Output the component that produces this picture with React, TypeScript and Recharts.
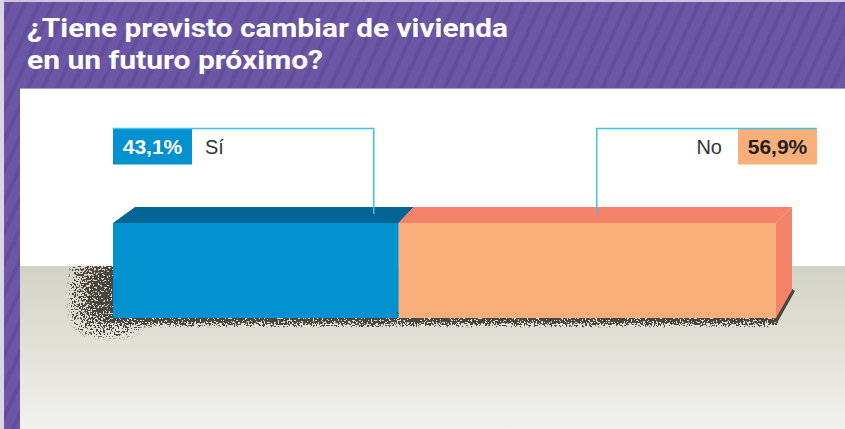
import React from "react";
import { BarChart, Bar, XAxis, YAxis } from "recharts";

const TITLE_LINES = ["¿Tiene previsto cambiar de vivienda", "en un futuro próximo?"];
const ANSWERS = ["Sí", "No"];
const KEYS = ["si", "no"];
const SHARES = [43.1, 56.9];

const W = 845;
const H = 429;
const FONT = '"Liberation Sans", Arial, Helvetica, sans-serif';
const SHADOW = "#4a463f";
const CALLOUT = "#3fc2ee";

const PALETTE = [
  { front: "#0491cf", top: "#046594", side: "#046594", box: "#0491cf", boxText: "#ffffff" },
  { front: "#f9af79", top: "#f4836a", side: "#f4836a", box: "#f9af79", boxText: "#231f20" },
];

const rows = [
  Object.fromEntries([["q", TITLE_LINES.join(" ")], ...KEYS.map((k, i) => [k, SHARES[i]])]),
];

const fmt = (v: number) => `${v.toFixed(1).replace(".", ",")}%`;

/* ─── 3D segment with its callout ─────────────────── */
function makeShape(i: number) {
  return function Segment(props: any) {
    const { x, y, width: w, height: h } = props;
    const p = PALETTE[i];
    const first = i === 0;
    const last = i === SHARES.length - 1;
    const dy = 16;
    const dl = first ? 22 : 15;
    const dr = last ? 16 : 15;
    const boxY = y - 94.5;
    const boxH = 36;
    const textY = y - 69;

    return (
      <g>
        {/* shadow on the floor */}
        <g clipPath="url(#floorClip)">
          {first && (
            <rect x={x - 30} y={y + 36} width={50} height={h - 30} fill="#000" filter="url(#speckleWide)" />
          )}
          <rect x={x - (first ? 12 : 0)} y={y + h - 6} width={w + (first ? 12 : 0)} height={12}
                fill="#000" filter="url(#speckleThin)" />
          {last && (
            <polygon
              points={`${x + w - 3},${y + h + 3} ${x + w + 15},${y + h - 30} ${x + w + 19},${y + h - 27} ${x + w + 1},${y + h + 5}`}
              fill={SHADOW}
            />
          )}
        </g>

        {/* top face */}
        <polygon
          points={`${x},${y} ${x + dl},${y - dy} ${x + w + dr},${y - dy} ${x + w},${y}`}
          fill={p.top}
        />
        {/* right face */}
        {last && (
          <polygon
            points={`${x + w},${y} ${x + w + dr},${y - dy} ${x + w + dr},${y + h - 28} ${x + w},${y + h}`}
            fill={p.side}
          />
        )}
        {/* front face */}
        <rect x={x} y={y} width={w} height={h} fill={p.front} />

        {/* callout */}
        {first ? (
          <g fontFamily={FONT}>
            <rect x={x} y={boxY} width={79} height={boxH} fill={p.box} />
            <path d={`M${x},${boxY} H${x + w - 25} V${y - 9}`} fill="none" stroke={CALLOUT} strokeWidth={1.5} />
            <text x={x + 39.5} y={textY} textAnchor="middle" fontSize={21} fontWeight="bold" fill={p.boxText}>
              {fmt(SHARES[i])}
            </text>
            <text x={x + 92} y={textY} fontSize={20} fill="#333">{ANSWERS[i]}</text>
          </g>
        ) : (
          <g fontFamily={FONT}>
            <rect x={x + w - 38} y={boxY} width={79} height={boxH} fill={p.box} />
            <path d={`M${x + w + 41},${boxY} H${x + 198} V${y - 9}`} fill="none" stroke={CALLOUT} strokeWidth={1.5} />
            <text x={x + w + 1.5} y={textY} textAnchor="middle" fontSize={21} fontWeight="bold" fill={p.boxText}>
              {fmt(SHARES[i])}
            </text>
            <text x={x + w - 54} y={textY} textAnchor="end" fontSize={20} fill="#333">{ANSWERS[i]}</text>
          </g>
        )}
      </g>
    );
  };
}

function Defs() {
  return (
    <svg width={0} height={0} style={{ position: "absolute" }}>
      <defs>
        <clipPath id="floorClip">
          <rect x={0} y={266} width={W} height={H - 266} />
        </clipPath>
        {[
          { id: "speckleWide", sd: 10 },
          { id: "speckleThin", sd: 2 },
        ].map((f) => (
          <filter key={f.id} id={f.id} x="-100%" y="-100%" width="300%" height="300%"
                  colorInterpolationFilters="sRGB">
            <feGaussianBlur in="SourceAlpha" stdDeviation={f.sd} result="b" />
            <feComponentTransfer in="b" result="reach">
              <feFuncA type="linear" slope={12} intercept={-0.4} />
            </feComponentTransfer>
            <feTurbulence type="fractalNoise" baseFrequency="0.55" numOctaves={2} seed={7} result="n" />
            <feColorMatrix in="n" type="matrix"
                           values="0 0 0 0 0  0 0 0 0 0  0 0 0 0 0  1 0 0 0 0" result="na" />
            <feComposite in="b" in2="na" operator="arithmetic" k1={0} k2={1} k3={4} k4={-2} result="m" />
            <feComponentTransfer in="m" result="t">
              <feFuncA type="discrete" tableValues="0 1" />
            </feComponentTransfer>
            <feComposite in="t" in2="reach" operator="in" result="tm" />
            <feFlood floodColor={SHADOW} />
            <feComposite in2="tm" operator="in" />
          </filter>
        ))}
      </defs>
    </svg>
  );
}

export default function App() {
  return (
    <div
      style={{
        position: "absolute", left: 0, top: 0, width: W, height: H, overflow: "hidden",
        background: "repeating-linear-gradient(115deg, #6b57a5 0px, #6b57a5 9px, #624e9b 9px, #624e9b 13px)",
      }}
    >
      <div style={{ position: "absolute", left: 0, top: 0, width: W, height: 2, background: "#cdc6df" }} />
      <div style={{ position: "absolute", left: 0, top: 0, width: 4, height: H, background: "#d9d7e1" }} />
      <div
        style={{
          position: "absolute", left: 20, top: 88, right: 0, bottom: 0,
          borderTop: "1px solid #a99bcb",
          background: "linear-gradient(to bottom, #ffffff 0px, #ffffff 177px, #d3d2c5 177px, #f2f2ed 100%)",
        }}
      />

      <svg width={W} height={88} style={{ position: "absolute", left: 0, top: 0 }}>
        <g fontFamily='Roboto, "Liberation Sans", Arial, sans-serif' fontWeight="bold" fontSize={25} fill="#ffffff">
          <text x={27} y={37} textLength={481} lengthAdjust="spacingAndGlyphs">{TITLE_LINES[0]}</text>
          <text x={27} y={69} textLength={296} lengthAdjust="spacingAndGlyphs">{TITLE_LINES[1]}</text>
        </g>
      </svg>

      <Defs />
      <div style={{ position: "absolute", left: 0, top: 0 }}>
        <BarChart
          width={W}
          height={H}
          data={rows}
          layout="vertical"
          margin={{ top: 130, right: 69, bottom: 18, left: 113 }}
          barSize={95}
        >
          <XAxis type="number" domain={[0, 100]} hide />
          <YAxis type="category" dataKey="q" hide />
          {KEYS.map((k, i) => (
            <Bar key={k} dataKey={k} stackId="a" shape={makeShape(i)} isAnimationActive={false} />
          ))}
        </BarChart>
      </div>
    </div>
  );
}
